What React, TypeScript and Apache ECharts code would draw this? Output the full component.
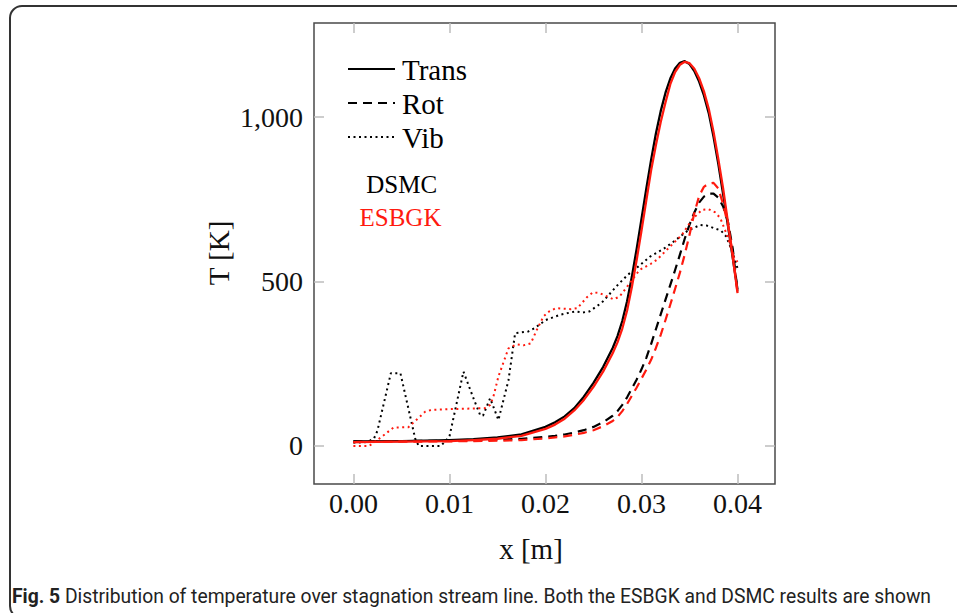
import React, { useEffect, useRef } from "react";
import * as echarts from "echarts";

// ---- data ----
const gridX = [0, 0.005, 0.01, 0.0125, 0.015, 0.0175, 0.02, 0.021, 0.022, 0.023, 0.024, 0.025, 0.026, 0.027, 0.0275, 0.028, 0.0285, 0.029, 0.0295, 0.03, 0.0305, 0.031, 0.0315, 0.032, 0.0325, 0.033, 0.0335, 0.034, 0.0345, 0.035, 0.0355, 0.036, 0.0365, 0.037, 0.0375, 0.038, 0.0385, 0.039, 0.0395, 0.04];

const transDSMC = [14, 15, 18, 21, 26, 35, 58, 72, 90, 115, 150, 192, 240, 298, 334, 380, 440, 515, 600, 690, 782, 870, 950, 1018, 1074, 1117, 1148, 1165, 1170, 1161, 1140, 1108, 1066, 1012, 940, 857, 765, 670, 572, 475];
const transESBGK = [12, 13, 15, 18, 22, 31, 52, 65, 83, 108, 140, 180, 226, 282, 315, 357, 412, 484, 566, 655, 747, 838, 915, 985, 1045, 1100, 1137, 1159, 1168, 1164, 1147, 1118, 1078, 1025, 955, 872, 782, 680, 575, 465];

const rotDSMC = [14, 15, 16, 17, 19, 22, 28, 31, 35, 41, 48, 58, 72, 92, 106, 125, 148, 175, 202, 233, 268, 310, 355, 400, 445, 490, 535, 582, 630, 673, 710, 740, 758, 767, 767, 755, 728, 682, 600, 470];
const rotESBGK = [12, 13, 14, 15, 16, 18, 23, 26, 29, 34, 40, 48, 60, 76, 88, 106, 128, 153, 178, 205, 232, 262, 298, 338, 383, 430, 478, 527, 582, 642, 708, 760, 788, 798, 800, 783, 735, 672, 585, 465];

const vibDSMCx = [0, 0.0015, 0.00215, 0.0025, 0.0039, 0.0049, 0.00643, 0.0068, 0.0091, 0.01, 0.01146, 0.01257, 0.0132, 0.0135, 0.01424, 0.0151, 0.01615, 0.01684, 0.0182, 0.01885, 0.02004, 0.02153, 0.0231, 0.0239, 0.02458, 0.02588, 0.02744, 0.02855, 0.02969, 0.0309, 0.03229, 0.03351, 0.03483, 0.03611, 0.03681, 0.03827, 0.03882, 0.03952, 0.04];
const vibDSMC = [10, 12, 23, 46, 221, 221, 23, 0, 0, 28, 226, 140, 94, 92, 145, 79, 200, 343, 348, 358, 383, 399, 409, 406, 409, 436, 487, 520, 546, 576, 599, 625, 655, 672, 670, 655, 637, 586, 540];

const vibESBGKx = [0, 0.00163, 0.00296, 0.00417, 0.00573, 0.00625, 0.00747, 0.00816, 0.01, 0.0137, 0.01424, 0.01458, 0.0151, 0.01615, 0.01701, 0.01771, 0.01847, 0.0191, 0.0198, 0.02038, 0.02108, 0.02264, 0.02333, 0.02431, 0.02493, 0.02563, 0.02708, 0.02771, 0.02865, 0.02979, 0.03098, 0.0316, 0.033, 0.03421, 0.03525, 0.03629, 0.03698, 0.03768, 0.0382, 0.03896, 0.03958, 0.04];
const vibESBGK = [0, 0, 28, 56, 57, 71, 104, 110, 112, 115, 125, 150, 211, 297, 309, 306, 312, 353, 394, 409, 419, 416, 419, 452, 467, 465, 446, 454, 490, 535, 554, 566, 607, 642, 688, 718, 720, 710, 693, 637, 576, 560];

const xTicks = [0, 0.01, 0.02, 0.03, 0.04];
const yTicks = [0, 500, 1000];
const legendNames = ["Trans", "Rot", "Vib"];
const sourceNames = ["DSMC", "ESBGK"];
const caption = " Distribution of temperature over stagnation stream line. Both the ESBGK and DSMC results are shown";

const BLACK = "#000000";
const RED = "#ff1a0f";
const SERIF = "'Liberation Serif', 'DejaVu Serif', serif";
const SANS = "Roboto, 'Open Sans', sans-serif";

const pairs = (xs: number[], ys: number[]) => xs.map((x, i) => [x, ys[i]]);

export default function App() {
  const ref = useRef<HTMLDivElement>(null);
  useEffect(() => {
    if (!ref.current) return;
    const chart = echarts.init(ref.current, null, { renderer: "svg" });
    const solid = (c: string) => ({ color: c, width: 2.3, type: "solid" as const, join: "round" as const });
    const dashed = (c: string) => ({ color: c, width: 2.2, type: [9, 6] as any, join: "round" as const });
    const dotted = (c: string) => ({ color: c, width: 2, type: [2, 3.5] as any });
    const tickStyle = { lineStyle: { color: "#bdbdbd", width: 1.5 } };
    const xCommon = {
      type: "value" as const,
      min: -0.0041,
      max: 0.0439,
      splitLine: { show: false },
      axisLine: { show: false, onZero: false },
    };
    const yCommon = {
      type: "value" as const,
      min: -115.6,
      max: 1286,
      splitLine: { show: false },
      axisLine: { show: false, onZero: false },
    };
    const legendY = [69, 103, 137];
    const legendDash: any[] = [null, [9, 6], [2, 3.5]];
    const graphic: any[] = [
      {
        type: "rect",
        shape: { x: 10, y: 6, width: 1000, height: 612, r: 12 },
        style: { fill: "none", stroke: "#333", lineWidth: 2 },
        silent: true,
      },
    ];
    legendNames.forEach((n, i) => {
      graphic.push({
        type: "line",
        shape: { x1: 348, y1: legendY[i], x2: 395, y2: legendY[i] },
        style: { stroke: BLACK, lineWidth: i === 2 ? 2 : 2.2, lineDash: legendDash[i] },
      });
      graphic.push({
        type: "text",
        x: 402,
        y: legendY[i] + 1,
        style: { text: n, font: `29px ${SERIF}`, fill: BLACK, textVerticalAlign: "middle", textAlign: "left" },
      });
    });
    graphic.push({
      type: "text",
      x: 401.7,
      y: 184,
      style: { text: sourceNames[0], font: `25px ${SERIF}`, fill: BLACK, textVerticalAlign: "middle", textAlign: "center" },
    });
    graphic.push({
      type: "text",
      x: 400.5,
      y: 217,
      style: { text: sourceNames[1], font: `25px ${SERIF}`, fill: RED, textVerticalAlign: "middle", textAlign: "center" },
    });
    graphic.push({
      type: "text",
      x: 219,
      y: 253,
      rotation: Math.PI / 2,
      style: { text: "T [K]", font: `29px ${SERIF}`, fill: "#111", textAlign: "center", textVerticalAlign: "middle" },
    });
    graphic.push({
      type: "text",
      x: 531,
      y: 549,
      style: { text: "x [m]", font: `29px ${SERIF}`, fill: "#111", textAlign: "center", textVerticalAlign: "middle" },
    });
    graphic.push({
      type: "text",
      x: 12,
      y: 596,
      style: {
        rich: {
          b: { fontFamily: SANS, fontWeight: "bold", fontSize: 19.3, fill: "#222" },
          n: { fontFamily: SANS, fontSize: 19.3, fill: "#222" },
        },
        text: `{b|Fig. 5}{n|${caption}}`,
        textVerticalAlign: "middle",
      },
    });

    chart.setOption({
      animation: false,
      backgroundColor: "#ffffff",
      grid: {
        left: 314,
        right: 182,
        top: 23,
        bottom: 129,
        show: true,
        borderColor: "#4a4a4a",
        borderWidth: 1.5,
        containLabel: false,
      },
      xAxis: [
        {
          ...xCommon,
          position: "bottom",
          axisTick: { show: true, inside: true, length: 10, customValues: xTicks, ...tickStyle },
          axisLabel: {
            customValues: xTicks,
            formatter: (v: number) => v.toFixed(2),
            fontFamily: SERIF,
            fontSize: 28,
            color: "#111",
            margin: 5,
          },
        },
        {
          ...xCommon,
          position: "top",
          axisTick: { show: true, inside: true, length: 10, customValues: xTicks, ...tickStyle },
          axisLabel: { show: false },
        },
      ],
      yAxis: [
        {
          ...yCommon,
          position: "left",
          axisTick: { show: true, inside: true, length: 10, customValues: yTicks, ...tickStyle },
          axisLabel: {
            customValues: yTicks,
            formatter: (v: number) => (v >= 1000 ? v.toLocaleString("en-US") : String(v)),
            fontFamily: SERIF,
            fontSize: 28,
            color: "#111",
            margin: 11,
          },
        },
        {
          ...yCommon,
          position: "right",
          axisTick: { show: true, inside: true, length: 10, customValues: yTicks, ...tickStyle },
          axisLabel: { show: false },
        },
      ],
      series: [
        { name: "Vib DSMC", type: "line", data: pairs(vibDSMCx, vibDSMC), showSymbol: false, lineStyle: dotted(BLACK) },
        { name: "Rot DSMC", type: "line", data: pairs(gridX, rotDSMC), showSymbol: false, lineStyle: dashed(BLACK) },
        { name: "Trans DSMC", type: "line", data: pairs(gridX, transDSMC), showSymbol: false, lineStyle: solid(BLACK) },
        { name: "Vib ESBGK", type: "line", data: pairs(vibESBGKx, vibESBGK), showSymbol: false, lineStyle: dotted(RED) },
        { name: "Rot ESBGK", type: "line", data: pairs(gridX, rotESBGK), showSymbol: false, lineStyle: dashed(RED) },
        { name: "Trans ESBGK", type: "line", data: pairs(gridX, transESBGK), showSymbol: false, lineStyle: solid(RED) },
      ],
      graphic,
    });
    return () => chart.dispose();
  }, []);
  return <div ref={ref} style={{ position: "fixed", left: 0, top: 0, width: 957, height: 613, background: "#fff" }} />;
}
